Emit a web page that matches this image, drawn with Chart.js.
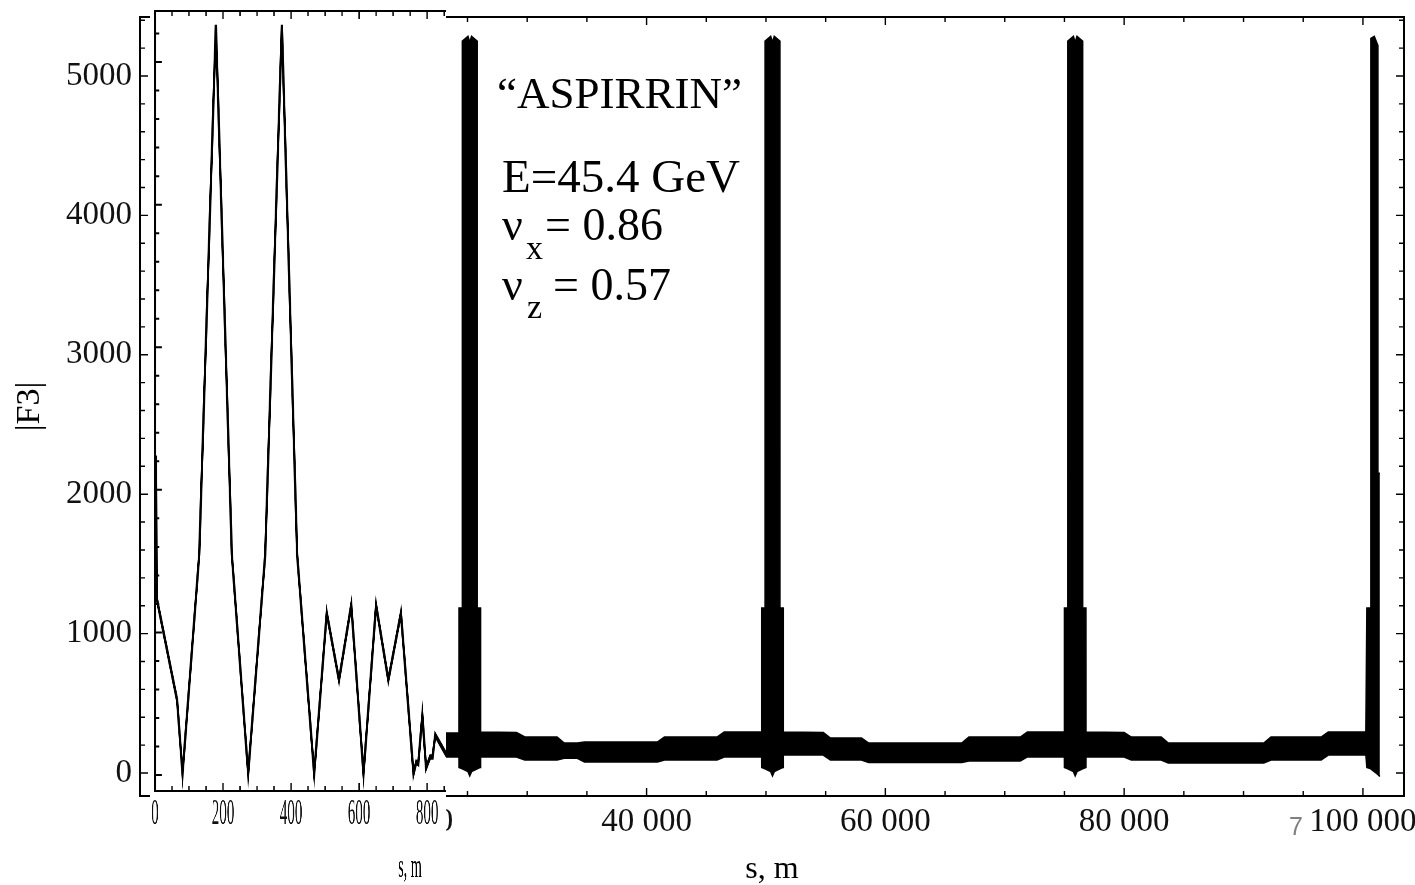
<!DOCTYPE html>
<html>
<head>
<meta charset="utf-8">
<script src="https://cdn.jsdelivr.net/npm/chart.js@4.4.1/dist/chart.umd.min.js"></script>
<style>
  html, body { margin: 0; padding: 0; background: #fff; overflow: hidden; }
  #wrap { position: relative; width: 1415px; height: 885px; }
  #mainChart { position: absolute; left: 0; top: 0; }
  #insetChart { position: absolute; left: 150px; top: 0; background: #fff;
                transform-origin: 0 0; transform: scaleX(0.4297); }
</style>
</head>
<body>
<div id="wrap">
  <canvas id="mainChart" width="1415" height="885"></canvas>
  <canvas id="insetChart" width="690" height="885"></canvas>
</div>
<script>
// long run: upper and lower edge of the dense |F3| band, s in metres
const mainS = [22800, 24285, 24290, 24565, 24570, 25040, 25190, 25340, 25810, 25815, 26090, 26095,
  29100, 29800, 32500, 33100, 34200, 34800, 40900, 41500, 45900, 46500, 49640,
  49645, 49920, 49925, 50395, 50545, 50695, 51165, 51170, 51445, 51450,
  54800, 55400, 58000, 58600, 66400, 67000, 71300, 71900, 74995,
  75000, 75275, 75280, 75750, 75900, 76050, 76520, 76525, 76800, 76805,
  80000, 80600, 83100, 83700, 91700, 92300, 96500, 97100, 100245,
  100330, 100660, 100665, 100950, 101250, 101255, 101420];
const mainUpper = [287, 287, 1184, 1184, 5250, 5285, 5240, 5285, 5250, 1184, 1184, 294,
  290, 258, 258, 215, 215, 222, 222, 258, 258, 294, 294,
  1184, 1184, 5250, 5285, 5240, 5285, 5250, 1184, 1184, 294,
  290, 251, 251, 215, 215, 258, 258, 294, 294,
  1184, 1184, 5250, 5285, 5240, 5285, 5250, 1184, 1184, 294,
  290, 258, 258, 215, 215, 258, 258, 294, 294,
  1184, 1184, 5270, 5285, 5220, 2150, 2150];
const mainLower = [115, 115, 40, 30, 30, 10, -20, 10, 30, 30, 40, 115,
  115, 93, 93, 105, 105, 79, 79, 93, 93, 115, 115,
  40, 30, 30, 10, -20, 10, 30, 30, 40, 129,
  129, 93, 93, 75, 75, 86, 86, 115, 115,
  40, 30, 30, 10, -20, 10, 30, 30, 40, 115,
  115, 93, 93, 72, 72, 93, 93, 129, 129,
  40, 30, 30, 10, -10, -10, -25];

// first 850 m (inset)
const insetS  = [3, 5, 65, 81, 130, 179, 226, 274, 324, 373, 418, 468, 505, 541, 577, 613,
  650, 686, 723, 760, 768, 774, 786, 797, 809, 816, 824, 857];
const insetF3 = [2240, 1240, 526, 10, 1543, 5260, 1543, 10, 1543, 5260, 1543, 10, 1136, 666, 1192, 10,
  1192, 666, 1136, 10, 90, 80, 420, 50, 126, 126, 280, 140];

const mainXTicks = [0, 5000, 10000, 15000, 20000, 25000, 30000, 35000, 40000, 45000, 50000,
  55000, 60000, 65000, 70000, 75000, 80000, 85000, 90000, 95000, 100000];
const mainXLabels = [0, 20000, 40000, 60000, 80000, 100000];
const mainYTicks = [0, 200, 400, 600, 800, 1000, 1200, 1400, 1600, 1800, 2000, 2200, 2400, 2600,
  2800, 3000, 3200, 3400, 3600, 3800, 4000, 4200, 4400, 4600, 4800, 5000, 5200, 5400];
const mainYLabels = [0, 1000, 2000, 3000, 4000, 5000];
const insetXTicks = [0, 50, 100, 150, 200, 250, 300, 350, 400, 450, 500, 550, 600, 650, 700, 750, 800, 850];
const insetXLabels = [0, 200, 400, 600, 800];
const insetYTicks = [0, 200, 400, 600, 800, 1000, 1200, 1400, 1600, 1800, 2000, 2200, 2400, 2600,
  2800, 3000, 3200, 3400, 3600, 3800, 4000, 4200, 4400, 4600, 4800, 5000, 5200];
const insetYMajor = [0, 1000, 2000, 3000, 4000, 5000];

const SERIF = '"Liberation Serif", "Times New Roman", serif';

function spaced(v) {
    return String(v).replace(/\B(?=(\d{3})+(?!\d))/g, ' ');
}

const mainFrame = {
    id: 'mainFrame',
    afterDraw(chart) {
        const {ctx, chartArea: a, scales: {x, y}} = chart;
        ctx.save();
        ctx.strokeStyle = '#000';
        ctx.lineWidth = 1.4;
        ctx.beginPath();
        mainYTicks.forEach(v => {
            const py = y.getPixelForValue(v);
            const len = mainYLabels.includes(v) ? 8 : 5;
            ctx.moveTo(a.left, py); ctx.lineTo(a.left + len, py);
            ctx.moveTo(a.right, py); ctx.lineTo(a.right - len, py);
        });
        mainXTicks.forEach(v => {
            const px = x.getPixelForValue(v);
            const len = mainXLabels.includes(v) ? 8 : 5;
            ctx.moveTo(px, a.bottom); ctx.lineTo(px, a.bottom - len);
            ctx.moveTo(px, a.top); ctx.lineTo(px, a.top + len);
        });
        ctx.stroke();
        ctx.lineWidth = 2;
        ctx.strokeRect(a.left, a.top, a.right - a.left, a.bottom - a.top);

        // text on the plot
        ctx.fillStyle = '#000';
        ctx.textAlign = 'left';
        ctx.textBaseline = 'alphabetic';
        ctx.font = '45px ' + SERIF;
        ctx.fillText('\u201CASPIRRIN\u201D', 497, 108);
        ctx.font = '47px ' + SERIF;
        ctx.fillText('E=45.4 GeV', 502, 192);
        ctx.font = '46px ' + SERIF;
        ctx.fillText('\u03BD', 502, 240);
        ctx.fillText('= 0.86', 545, 240);
        ctx.fillText('\u03BD', 502, 300);
        ctx.fillText('= 0.57', 553, 300);
        ctx.font = '34px ' + SERIF;
        ctx.fillText('x', 526, 259);
        ctx.fillText('z', 527, 318);

        ctx.fillStyle = '#808080';
        ctx.font = '25px "Liberation Sans", sans-serif';
        ctx.fillText('7', 1289, 835);
        ctx.restore();
    }
};

const insetFrame = {
    id: 'insetFrame',
    afterDraw(chart) {
        const {ctx, chartArea: a, scales: {x, y}} = chart;
        ctx.save();
        ctx.strokeStyle = '#000';
        ctx.lineWidth = 2;
        ctx.beginPath();
        ctx.moveTo(a.left, a.top); ctx.lineTo(chart.width, a.top);
        ctx.moveTo(a.left, a.bottom); ctx.lineTo(chart.width, a.bottom);
        insetYTicks.forEach(v => {
            const py = y.getPixelForValue(v);
            const len = insetYMajor.includes(v) ? 16 : 10;
            ctx.moveTo(a.left, py); ctx.lineTo(a.left + len, py);
        });
        ctx.stroke();
        ctx.lineWidth = 3;
        ctx.beginPath();
        insetXTicks.forEach(v => {
            const px = x.getPixelForValue(v);
            const len = insetXLabels.includes(v) ? 8 : 5;
            ctx.moveTo(px, a.bottom); ctx.lineTo(px, a.bottom - len);
            ctx.moveTo(px, a.top); ctx.lineTo(px, a.top + len);
        });
        ctx.stroke();
        ctx.lineWidth = 5;
        ctx.beginPath();
        ctx.moveTo(a.left, a.top - 1); ctx.lineTo(a.left, a.bottom + 1);
        ctx.stroke();

        ctx.fillStyle = '#000';
        ctx.font = '33px ' + SERIF;
        ctx.textAlign = 'center';
        ctx.fillText('s, m', 605, 877);
        ctx.restore();
    }
};

new Chart(document.getElementById('mainChart'), {
    type: 'line',
    data: {
        datasets: [
            {
                label: '|F3| upper',
                data: mainS.map((s, i) => ({x: s, y: mainUpper[i]})),
                borderColor: '#000',
                backgroundColor: '#000',
                borderWidth: 1.5,
                pointRadius: 0,
                tension: 0,
                fill: '+1'
            },
            {
                label: '|F3| lower',
                data: mainS.map((s, i) => ({x: s, y: mainLower[i]})),
                borderColor: '#000',
                borderWidth: 1.5,
                pointRadius: 0,
                tension: 0,
                fill: false
            }
        ]
    },
    options: {
        responsive: false,
        animation: false,
        layout: {padding: {left: 0, top: 17, right: 11, bottom: 0}},
        plugins: {legend: {display: false}, tooltip: {enabled: false}},
        scales: {
            x: {
                type: 'linear',
                min: -2430,
                max: 103440,
                grid: {display: false, drawTicks: false},
                border: {display: false},
                afterBuildTicks: scale => { scale.ticks = mainXTicks.map(v => ({value: v})); },
                afterFit: scale => { scale.height = 89; scale.paddingLeft = 0; scale.paddingRight = 0; },
                ticks: {
                    autoSkip: false,
                    maxRotation: 0,
                    padding: 7,
                    color: '#111',
                    font: {family: SERIF, size: 33},
                    callback: v => mainXLabels.includes(v) ? spaced(v) : ''
                },
                title: {
                    display: true,
                    text: 's, m',
                    color: '#000',
                    font: {family: SERIF, size: 32, lineHeight: 0.9},
                    padding: {bottom: 1}
                }
            },
            y: {
                type: 'linear',
                min: -165,
                max: 5423,
                grid: {display: false, drawTicks: false},
                border: {display: false},
                afterBuildTicks: scale => { scale.ticks = mainYTicks.map(v => ({value: v})); },
                afterFit: scale => { scale.width = 140; scale.paddingTop = 0; scale.paddingBottom = 0; },
                ticks: {
                    autoSkip: false,
                    padding: 8,
                    color: '#111',
                    font: {family: SERIF, size: 33},
                    callback: v => mainYLabels.includes(v) ? String(v) : ''
                },
                title: {
                    display: true,
                    text: '|F3|',
                    color: '#000',
                    font: {family: SERIF, size: 34},
                    padding: {top: 10}
                }
            }
        }
    },
    plugins: [mainFrame]
});

new Chart(document.getElementById('insetChart'), {
    type: 'line',
    data: {
        datasets: [{
            label: '|F3|',
            data: insetS.map((s, i) => ({x: s, y: insetF3[i]})),
            borderColor: '#000',
            borderWidth: 5.5,
            pointRadius: 0,
            tension: 0,
            fill: false
        }]
    },
    options: {
        responsive: false,
        animation: false,
        layout: {padding: {left: 0, top: 11, right: 0, bottom: 0}},
        plugins: {legend: {display: false}, tooltip: {enabled: false}},
        scales: {
            x: {
                type: 'linear',
                min: 0,
                max: 857,
                grid: {display: false, drawTicks: false},
                border: {display: false},
                afterBuildTicks: scale => { scale.ticks = insetXTicks.map(v => ({value: v})); },
                afterFit: scale => { scale.height = 94; scale.paddingLeft = 0; scale.paddingRight = 0; },
                ticks: {
                    autoSkip: false,
                    maxRotation: 0,
                    padding: 3,
                    color: '#111',
                    font: {family: SERIF, size: 35},
                    callback: v => insetXLabels.includes(v) ? String(v) : ''
                }
            },
            y: {
                type: 'linear',
                min: -112,
                max: 5358,
                grid: {display: false, drawTicks: false},
                border: {display: false},
                afterBuildTicks: scale => { scale.ticks = insetYTicks.map(v => ({value: v})); },
                afterFit: scale => { scale.width = 11.6; scale.paddingTop = 0; scale.paddingBottom = 0; },
                ticks: {display: false}
            }
        }
    },
    plugins: [insetFrame]
});
</script>
</body>
</html>
